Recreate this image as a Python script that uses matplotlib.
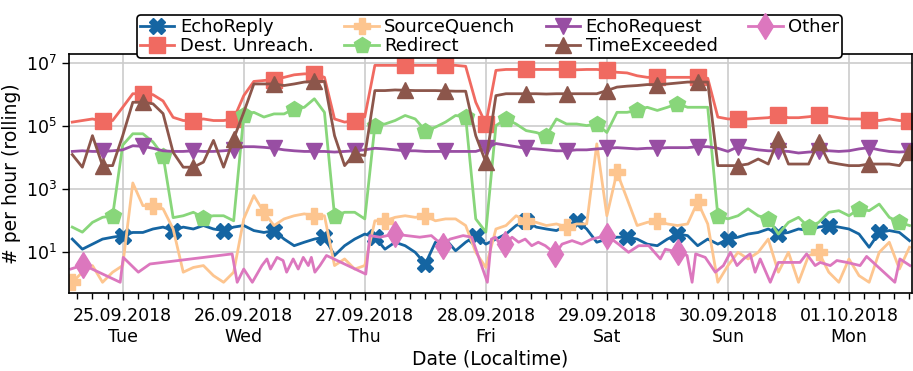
import numpy as np
import pandas as pd
import matplotlib.pyplot as plt
import matplotlib.dates as mdates
from matplotlib.ticker import FuncFormatter, NullLocator

# time grid: hours since 24.09.2018 00:00 (local time)
start = pd.Timestamp("2018-09-24")
hours = np.arange(14, 181, 2)

# values, stored as log10(count per hour)
echo_reply_log = [1.42, 1.1, 1.26, 1.42, 1.48, 1.53, 1.63, 1.63, 1.74, 1.8,
                  1.69, 1.8, 1.74, 1.85, 1.74, 1.69, 1.8, 1.85, 1.69, 1.63,
                  1.69, 1.42, 1.21, 1.32, 1.42, 1.48, 0.9, 1.21, 1.42, 1.58,
                  1.48, 1.1, 1.32, 1.21, 1.0, 0.63, 1.32, 1.42, 1.05, 1.32,
                  1.53, 1.26, 1.42, 1.58, 1.85, 2.0, 1.8, 1.74, 1.69, 1.85,
                  2.0, 1.74, 1.32, 1.42, 1.48, 1.48, 1.42, 1.26, 1.21, 1.42,
                  1.58, 1.53, 1.21, 1.42, 1.26, 1.42, 1.48, 1.58, 1.63, 1.74,
                  1.58, 1.63, 1.74, 1.69, 1.8, 1.85, 1.8, 1.74, 1.58, 1.16,
                  1.63, 1.69, 1.63, 1.37]
dest_unreach_log = [5.13, 5.18, 5.23, 5.16, 5.18, 5.6, 6.03, 6.03, 6.0, 5.8,
                    5.28, 5.18, 5.18, 5.23, 5.18, 5.18, 5.23, 5.97, 6.42, 6.45,
                    6.48, 6.55, 6.63, 6.66, 6.66, 6.55, 5.23, 5.13, 5.18, 5.3,
                    6.93, 6.93, 6.93, 6.93, 6.93, 6.93, 6.93, 6.93, 6.93, 6.9,
                    5.76, 5.07, 6.77, 6.8, 6.8, 6.8, 6.8, 6.8, 6.8, 6.8,
                    6.79, 6.8, 6.8, 6.77, 6.71, 6.69, 6.6, 6.55, 6.55, 6.55,
                    6.55, 6.55, 6.55, 6.52, 5.29, 5.23, 5.23, 5.23, 5.25, 5.27,
                    5.34, 5.27, 5.27, 5.3, 5.34, 5.32, 5.27, 5.23, 5.23, 5.21,
                    5.18, 5.23, 5.18, 5.18]
source_quench_log = [0.05, 0.37, 0.58, 0.05, 0.37, 0.58, 3.2, 2.48, 2.48, 2.38,
                     1.74, 0.37, 0.52, 0.58, 0.26, 0.05, 0.37, 2.06, 2.8, 2.27,
                     1.85, 2.06, 2.16, 2.22, 2.16, 2.16, 0.58, 0.79, 0.47, 0.58,
                     2.0, 2.0, 2.11, 2.16, 2.11, 2.16, 2.0, 2.06, 2.06, 1.85,
                     1.0, 0.52, 1.74, 1.85, 2.16, 2.0, 1.95, 1.85, 1.9, 1.8,
                     1.9, 1.9, 4.44, 2.16, 3.54, 2.7, 1.85, 1.95, 2.0, 1.9,
                     1.85, 1.9, 2.6, 1.9, 0.05, 0.58, 1.0, 0.79, 1.0, 1.42,
                     0.37, 1.0, 0.05, 0.9, 1.0, 0.37, 0.05, 0.79, 0.26, 0.05,
                     1.0, 1.32, 0.47, 1.16]
redirect_log = [1.8, 1.64, 1.95, 2.11, 2.16, 4.4, 4.76, 4.76, 4.5, 4.07,
                2.1, 2.16, 2.27, 2.1, 2.16, 2.16, 2.0, 5.34, 5.44, 5.29,
                5.39, 5.39, 5.55, 5.6, 5.87, 5.44, 2.16, 2.27, 2.27, 2.06,
                5.02, 5.07, 5.18, 5.34, 5.23, 4.86, 4.97, 5.13, 5.34, 5.29,
                2.06, 1.64, 5.02, 5.23, 5.07, 4.86, 4.8, 4.7, 5.23, 5.07,
                5.07, 5.02, 5.07, 4.8, 5.44, 5.44, 5.5, 5.6, 5.5, 5.6,
                5.71, 5.6, 5.6, 5.6, 2.16, 2.06, 2.16, 2.38, 2.16, 2.06,
                1.58, 1.95, 2.11, 1.8, 1.95, 2.27, 2.32, 2.16, 2.38, 2.32,
                2.53, 2.11, 1.95, 1.85]
echo_request_log = [4.2, 4.22, 4.2, 4.2, 4.22, 4.25, 4.38, 4.36, 4.3, 4.22,
                    4.2, 4.2, 4.22, 4.2, 4.2, 4.22, 4.25, 4.35, 4.35, 4.33,
                    4.3, 4.25, 4.22, 4.2, 4.2, 4.2, 4.18, 4.2, 4.22, 4.25,
                    4.3, 4.28, 4.25, 4.22, 4.22, 4.2, 4.2, 4.2, 4.2, 4.2,
                    4.2, 4.3, 4.45, 4.4, 4.35, 4.3, 4.28, 4.25, 4.22, 4.22,
                    4.25, 4.25, 4.28, 4.3, 4.32, 4.3, 4.28, 4.3, 4.3, 4.32,
                    4.32, 4.32, 4.35, 4.35, 4.3, 4.2, 4.35, 4.3, 4.25, 4.22,
                    4.22, 4.2, 4.15, 4.18, 4.2, 4.22, 4.2, 4.22, 4.28, 4.32,
                    4.25, 4.2, 4.18, 4.2]
time_exceeded_log = [4.1, 3.7, 4.7, 3.75, 3.75, 4.7, 5.76, 5.76, 5.71, 5.4,
                     4.17, 3.7, 3.7, 3.86, 4.55, 3.7, 4.6, 5.44, 6.34, 6.34,
                     6.34, 6.29, 6.34, 6.4, 6.42, 6.42, 4.7, 3.75, 4.12, 4.07,
                     6.13, 6.13, 6.15, 6.14, 6.13, 6.13, 6.13, 6.12, 6.11, 6.11,
                     4.7, 3.86, 5.97, 6.03, 6.03, 6.03, 6.03, 6.02, 6.03, 6.03,
                     6.03, 6.03, 6.03, 6.13, 6.24, 6.27, 6.29, 6.32, 6.32, 6.34,
                     6.37, 6.4, 6.4, 6.4, 3.75, 3.75, 3.75, 3.8, 3.96, 3.8,
                     4.6, 3.8, 3.8, 3.8, 4.5, 3.86, 3.8, 3.75, 3.75, 3.8,
                     3.8, 3.8, 3.75, 4.17]

# "Other" is sparse, so it has its own time stamps
other_hours = [13.7, 16.2, 23.5, 24.1, 27.1, 29.4, 45.7, 46.7, 48.0, 49.7,
               51.6, 52.6, 53.3, 54.6, 55.8, 56.5, 57.8, 58.8, 59.8, 60.8,
               61.4, 62.1, 63.1, 64.4, 72.2, 73.0, 75.0, 77.9, 80.3, 82.9,
               85.2, 87.5, 88.9, 91.5, 93.2, 96.3, 97.1, 97.9, 98.8, 99.8,
               101.2, 102.5, 103.8, 105.1, 106.4, 107.8, 109.8, 111.1, 113.1, 115.0,
               117.0, 120.0, 122.3, 124.3, 126.3, 128.3, 130.6, 131.6, 134.2, 135.9,
               136.9, 137.6, 139.5, 141.5, 143.1, 144.5, 145.8, 147.1, 148.4, 149.4,
               150.4, 152.4, 154.0, 155.7, 158.3, 159.6, 161.3, 162.3, 164.3, 165.6,
               167.6, 170.2, 171.5, 177.1, 178.1, 180.1]
other_log = [0.47, 0.6, 0.05, 0.84, 0.37, 0.63, 0.95, 0.05, 0.47, 0.05,
             0.58, 0.79, 0.47, 0.84, 0.74, 0.37, 0.79, 0.47, 0.84, 0.58,
             0.84, 0.37, 0.58, 0.9, 0.31, 1.53, 1.48, 1.58, 1.53, 1.48,
             1.53, 1.21, 1.42, 1.53, 1.48, 0.05, 1.42, 1.48, 1.26, 1.26,
             1.48, 1.32, 1.42, 1.21, 1.32, 1.21, 0.95, 1.26, 1.37, 1.26,
             1.42, 1.53, 1.26, 1.0, 1.21, 1.21, 0.79, 1.1, 1.0, 0.9,
             0.05, 0.95, 0.84, 0.37, 0.58, 1.0, 0.58, 0.79, 0.95, 0.37,
             0.79, 0.05, 0.68, 0.68, 0.68, 0.95, 0.58, 0.68, 0.58, 0.74,
             0.68, 0.58, 0.87, 0.05, 0.79, 0.58]

# marker positions (indices into the data)
marks_main = [3, 7, 12, 16, 20, 24, 28, 33, 37, 41, 45, 49, 53, 58, 62, 66, 70, 74, 79, 83]
marks_redirect = [4, 9, 13, 17, 22, 26, 30, 35, 39, 43, 47, 52, 56, 60, 64, 69, 73, 78, 82]
marks_quench = [0, 8, 19, 24, 31, 35, 45, 49, 54, 58, 62, 74]
marks_other = [1, 27, 31, 39, 46, 51, 58]


def to_time(h):
    return start + pd.to_timedelta(np.asarray(h, dtype=float), unit="h")


t = to_time(hours)
t_other = to_time(other_hours)

series = [
    ("EchoReply", t, echo_reply_log, "#1565a2", "X", (5, 5), 11),
    ("Dest. Unreach.", t, dest_unreach_log, "#f06a61", "s", marks_main, 11),
    ("SourceQuench", t, source_quench_log, "#fdc58f", "P", marks_quench, 11),
    ("Redirect", t, redirect_log, "#88d67a", "p", marks_redirect, 12),
    ("EchoRequest", t, echo_request_log, "#984ea3", "v", marks_main, 11),
    ("TimeExceeded", t, time_exceeded_log, "#8c564b", "^", marks_main, 11),
    ("Other", t_other, other_log, "#dc77be", "d", marks_other, 13),
]

fig = plt.figure(figsize=(9.13, 3.71), dpi=100)
ax = fig.add_axes([69 / 913, 1 - 293 / 371, 843 / 913, 239 / 371])

for label, x, ylog, color, marker, every, ms in series:
    ax.plot(x, 10 ** np.array(ylog), color=color, lw=2, marker=marker,
            markevery=every, markersize=ms, label=label)

ax.set_yscale("log")
ax.set_ylim(10 ** -0.29, 10 ** 7.29)
ax.set_yticks([1e1, 1e3, 1e5, 1e7])
ax.yaxis.set_minor_locator(NullLocator())
ax.set_xlim(start + pd.Timedelta(hours=13.35), start + pd.Timedelta(hours=180.5))

ax.xaxis.set_major_locator(mdates.DayLocator())
ax.xaxis.set_minor_locator(mdates.HourLocator(byhour=range(0, 24, 3)))
ax.xaxis.set_major_formatter(
    FuncFormatter(lambda v, pos: mdates.num2date(v).strftime("%d.%m.%Y\n%a")))

ax.grid(True, which="major", color="#cccccc", lw=1.2)
ax.set_axisbelow(True)
ax.tick_params(axis="both", which="major", labelsize=12.5, length=5, width=1)
ax.tick_params(axis="x", which="major", pad=5)
ax.tick_params(axis="x", which="minor", length=4, width=1)
for sp in ax.spines.values():
    sp.set_color("black")
    sp.set_linewidth(1.2)

ax.set_xlabel("Date (Localtime)", fontsize=13.5, labelpad=3)
ax.set_ylabel("# per hour (rolling)", fontsize=13.5, labelpad=4)

leg = ax.legend(loc="lower center", bbox_to_anchor=(0.499, 0.985), ncol=4,
                fontsize=13, handlelength=1.9, handletextpad=0.3,
                columnspacing=1.7, labelspacing=0.05, borderpad=0.15,
                borderaxespad=0, frameon=True, fancybox=True, framealpha=1)
leg.get_frame().set_edgecolor("black")
leg.get_frame().set_linewidth(1.2)

fig.savefig("out.png", dpi=100)
